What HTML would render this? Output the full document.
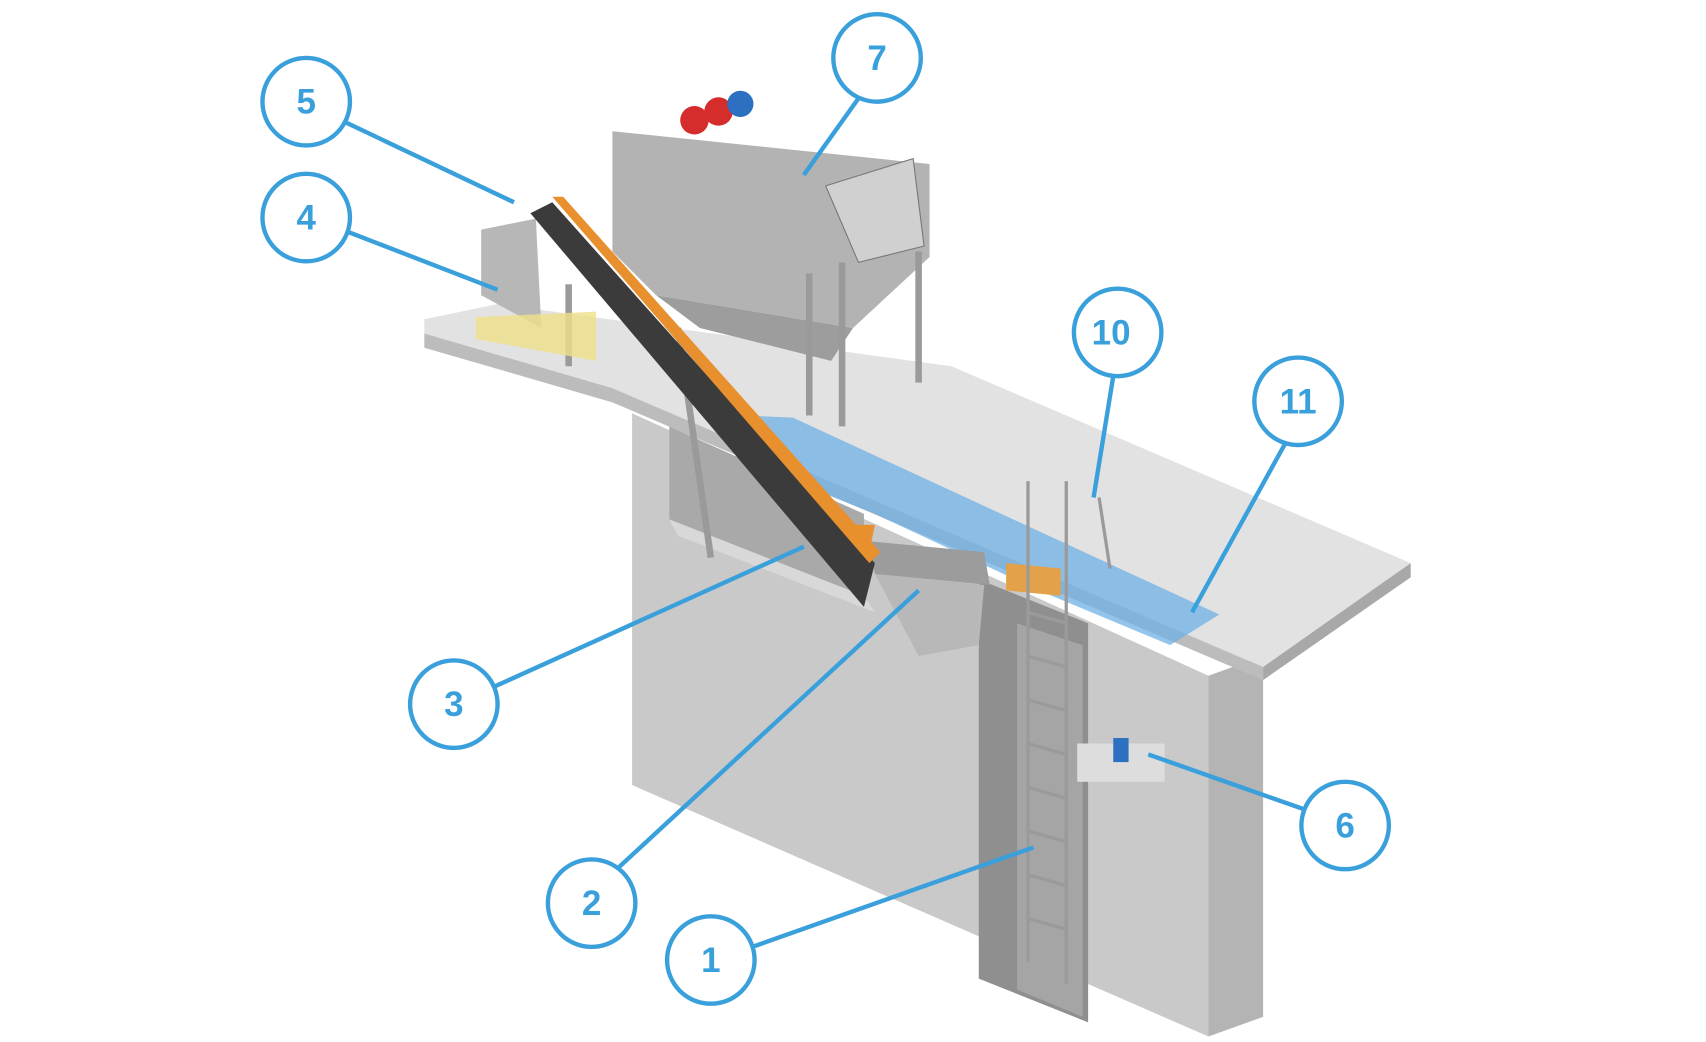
<!DOCTYPE html>
<html><head><style>html,body{margin:0;padding:0;background:#fff}svg{display:block}</style></head>
<body>
<svg width="1706" height="1042" viewBox="0 0 1560 953" preserveAspectRatio="none" xmlns="http://www.w3.org/2000/svg" font-family="Liberation Sans, sans-serif">
<rect width="1560" height="953" fill="#fff"/>
<!-- concrete block front -->
<polygon points="578,378 1105,618 1105,948 578,718" fill="#c9c9c9"/>
<polygon points="1105,618 1155,600 1155,930 1105,948" fill="#b4b4b4"/>
<!-- recess left -->
<polygon points="612,390 790,470 790,545 612,475" fill="#a9a9a9"/>
<polygon points="612,475 790,545 800,560 620,490" fill="#d8d8d8"/>
<!-- pit -->
<polygon points="895,530 995,570 995,935 895,895" fill="#8f8f8f"/>
<polygon points="930,570 990,590 990,930 930,905" fill="#a5a5a5"/>
<!-- deck top -->
<polygon points="388,292 455,278 870,335 1290,515 1155,610 560,355 388,305" fill="#e2e2e2"/>
<polygon points="388,305 560,355 1155,610 1155,622 560,368 388,318" fill="#bcbcbc"/>
<polygon points="1155,610 1290,515 1290,528 1155,622" fill="#a8a8a8"/>
<!-- blue channel -->
<polygon points="680,380 725,382 1115,562 1070,590 950,540 800,470 700,430" fill="#6fb0e6" opacity="0.75"/>
<polygon points="920,515 970,520 970,545 920,540" fill="#e3a24a"/>
<!-- ladder -->
<g stroke="#9a9a9a" stroke-width="3" fill="none">
<line x1="940" y1="440" x2="940" y2="880"/><line x1="975" y1="440" x2="975" y2="900"/>
<line x1="940" y1="560" x2="975" y2="570"/><line x1="940" y1="600" x2="975" y2="610"/><line x1="940" y1="640" x2="975" y2="650"/><line x1="940" y1="680" x2="975" y2="690"/><line x1="940" y1="720" x2="975" y2="730"/><line x1="940" y1="760" x2="975" y2="770"/><line x1="940" y1="800" x2="975" y2="810"/><line x1="940" y1="840" x2="975" y2="850"/>
<line x1="1005" y1="455" x2="1015" y2="520"/>
</g>
<!-- screen unit -->
<polygon points="795,495 900,505 905,535 800,525" fill="#9c9c9c"/>
<polygon points="800,525 900,535 895,590 840,600" fill="#b8b8b8"/>
<!-- pump 6 -->
<rect x="985" y="680" width="80" height="35" fill="#ddd"/>
<rect x="1018" y="675" width="14" height="22" fill="#2d6fc0"/>
<!-- machine frame -->
<polygon points="560,120 850,150 850,235 780,300 600,270 560,230" fill="#b3b3b3"/>
<polygon points="600,270 780,300 760,330 640,300" fill="#9d9d9d"/>
<polygon points="755,170 835,145 845,225 785,240" fill="#d0d0d0" stroke="#777"/>
<g stroke="#9a9a9a" stroke-width="6">
<line x1="770" y1="240" x2="770" y2="390"/><line x1="840" y1="230" x2="840" y2="350"/><line x1="740" y1="250" x2="740" y2="380"/>
<line x1="620" y1="300" x2="650" y2="510"/><line x1="520" y1="260" x2="520" y2="335"/>
</g>
<circle cx="635" cy="110" r="13" fill="#d52c2c"/><circle cx="657" cy="102" r="13" fill="#d52c2c"/><circle cx="677" cy="95" r="12" fill="#2d6fc0"/>
<!-- hopper left -->
<polygon points="440,210 490,200 495,300 440,270" fill="#b7b7b7"/>
<polygon points="435,290 545,285 545,330 435,310" fill="#efe08a" opacity="0.8"/>
<!-- conveyor -->
<polygon points="485,195 505,185 800,515 790,555" fill="#3b3b3b"/>
<polygon points="505,180 515,180 805,505 795,515" fill="#e8902e"/>
<polygon points="780,480 800,480 795,505" fill="#e8902e"/>
<!-- callouts -->
<g stroke="#3aa0dc" stroke-width="4" fill="none">
<line x1="312" y1="110" x2="470" y2="185"/>
<line x1="318" y1="212" x2="455" y2="265"/>
<line x1="785" y1="90" x2="735" y2="160"/>
<line x1="1018" y1="344" x2="1000" y2="455"/>
<line x1="1175" y1="406" x2="1090" y2="560"/>
<line x1="452" y1="628" x2="735" y2="500"/>
<line x1="1192" y1="740" x2="1050" y2="690"/>
<line x1="565" y1="794" x2="840" y2="540"/>
<line x1="688" y1="866" x2="945" y2="775"/>
</g>
<g stroke="#3aa0dc" stroke-width="4" fill="#fff">
<circle cx="280" cy="93" r="40"/><circle cx="280" cy="199" r="40"/><circle cx="802" cy="53" r="40"/>
<circle cx="1022" cy="304" r="40"/><circle cx="1187" cy="367" r="40"/><circle cx="415" cy="644" r="40"/>
<circle cx="1230" cy="755" r="40"/><circle cx="541" cy="826" r="40"/><circle cx="650" cy="878" r="40"/>
</g>
<g fill="#3aa0dc" font-size="32" font-weight="bold" text-anchor="middle">
<text x="280" y="104">5</text><text x="280" y="210">4</text><text x="802" y="64">7</text>
<text x="1016" y="315">10</text><text x="1187" y="378">11</text><text x="415" y="655">3</text>
<text x="1230" y="766">6</text><text x="541" y="837">2</text><text x="650" y="889">1</text>
</g>
</svg>
</body></html>
